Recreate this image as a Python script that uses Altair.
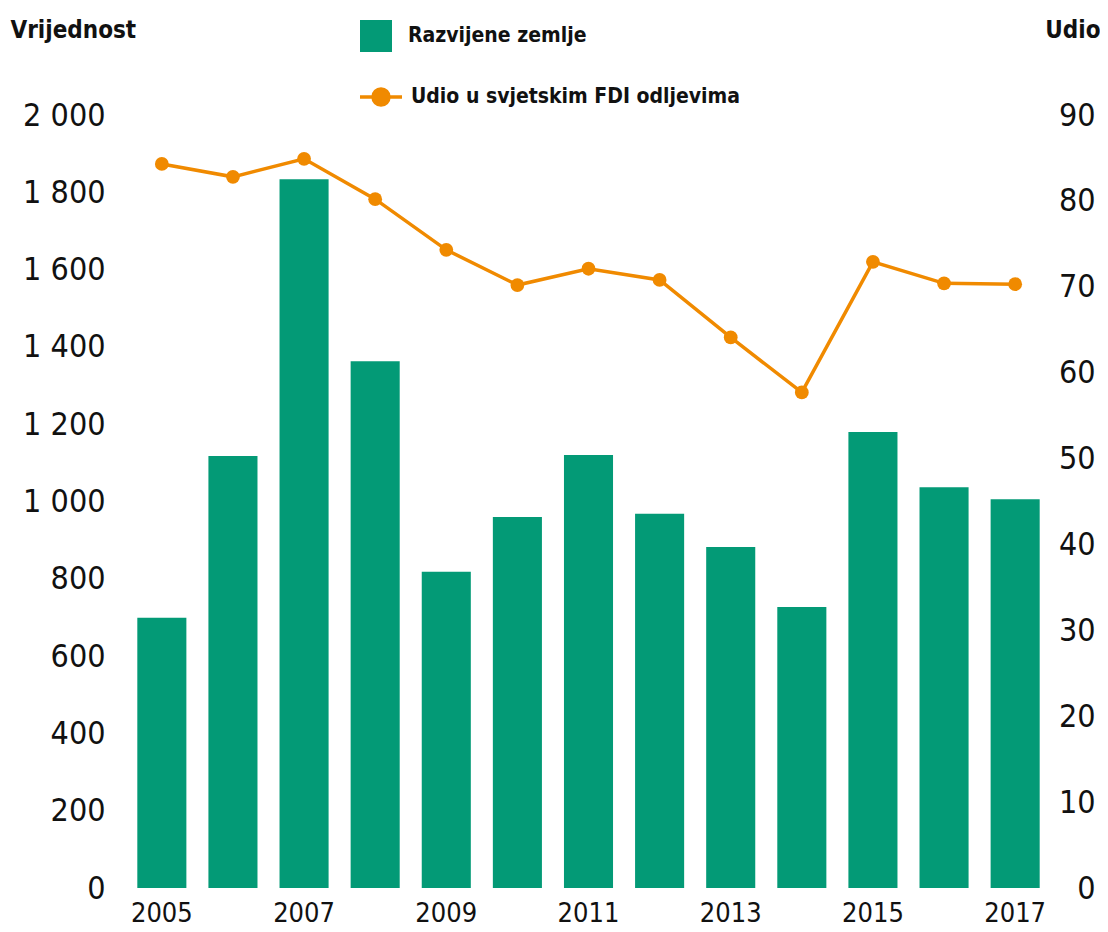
import altair as alt
import pandas as pd

years = [2005, 2006, 2007, 2008, 2009, 2010, 2011, 2012, 2013, 2014, 2015, 2016, 2017]
vrijednost = [699, 1118, 1834, 1363, 818, 960, 1120, 968, 882, 727, 1180, 1037, 1006]
udio = [84.3, 82.8, 84.9, 80.2, 74.3, 70.2, 72.1, 70.8, 64.1, 57.7, 72.9, 70.4, 70.3]
bar_label = "Razvijene zemlje"
line_label = "Udio u svjetskim FDI odljevima"
x_ticks = [2005, 2007, 2009, 2011, 2013, 2015, 2017]

GREEN = "#039A76"
ORANGE = "#F08A00"
FONT = "DejaVu Sans Condensed, Liberation Sans, sans-serif"

df = pd.DataFrame({
    "year": years,
    "vrijednost": vrijednost,
    "udio": udio,
    "s_bar": [bar_label] * len(years),
    "s_line": [line_label] * len(years),
})

x = alt.X("year:O", title=None,
          scale=alt.Scale(paddingInner=0.31, paddingOuter=0.145),
          axis=alt.Axis(values=x_ticks, labelAngle=0, labelFont=FONT, labelFontSize=27,
                        labelColor="#111", labelPadding=12, ticks=False, domain=False))

bars = alt.Chart(df).mark_bar(color=GREEN).encode(
    x=x,
    y=alt.Y("vrijednost:Q", title="Vrijednost",
            scale=alt.Scale(domain=[0, 2000], nice=False),
            axis=alt.Axis(orient="left", values=list(range(0, 2001, 200)),
                          labelExpr="replace(format(datum.value, ','), ',', ' ')",
                          labelFont=FONT, labelFontSize=32, labelColor="#111",
                          labelPadding=22, ticks=False, tickSize=0, domain=False, grid=False,
                          titleAngle=0, titleAlign="left", titleBaseline="middle",
                          titleX=-117, titleY=-85, titleFont=FONT, titleFontSize=24,
                          titleFontWeight="bold", titleColor="#111")),
    color=alt.Color("s_bar:N", scale=alt.Scale(domain=[bar_label], range=[GREEN]),
                    legend=alt.Legend(title=None, orient="none", legendX=233, legendY=-95,
                                      symbolType="square", symbolSize=1024,
                                      symbolStrokeWidth=0, symbolFillColor=GREEN,
                                      labelFont=FONT, labelFontSize=21, labelFontWeight="bold",
                                      labelColor="#111", labelOffset=16, labelLimit=0, padding=0)),
)

line = alt.Chart(df).mark_line(
    strokeWidth=3.5, point=alt.OverlayMarkDef(filled=True, size=190, color=ORANGE)
).encode(
    x=x,
    y=alt.Y("udio:Q", title="Udio",
            scale=alt.Scale(domain=[0, 90], nice=False),
            axis=alt.Axis(orient="right", values=list(range(0, 91, 10)),
                          labelFont=FONT, labelFontSize=32, labelColor="#111",
                          labelAlign="right", labelPadding=45, ticks=False, tickSize=0,
                          domain=False, grid=False,
                          titleAngle=0, titleAlign="right", titleBaseline="middle",
                          titleX=50, titleY=-85, titleFont=FONT, titleFontSize=24,
                          titleFontWeight="bold", titleColor="#111")),
    color=alt.Color("s_line:N", scale=alt.Scale(domain=[line_label], range=[ORANGE]),
                    legend=alt.Legend(title=None, orient="none", legendX=231, legendY=-41,
                                      symbolType="M-1,0L1,0M-0.38,0A0.38,0.38,0,1,0,0.38,0A0.38,0.38,0,1,0,-0.38,0Z",
                                      symbolSize=1764, symbolStrokeWidth=3.5,
                                      symbolStrokeColor=ORANGE, symbolFillColor=ORANGE,
                                      labelFont=FONT, labelFontSize=21, labelFontWeight="bold",
                                      labelColor="#111", labelOffset=7, labelLimit=0, padding=0)),
)

chart = alt.layer(bars, line).resolve_scale(
    y="independent", color="independent"
).properties(
    width=923, height=773,
    background="white",
    autosize=alt.AutoSizeParams(type="none"),
    padding={"left": 119, "top": 107, "right": 50, "bottom": 44},
).configure_view(strokeWidth=0, stroke="transparent")

chart.save("out.html", embed_options={"renderer": "svg", "actions": False})
